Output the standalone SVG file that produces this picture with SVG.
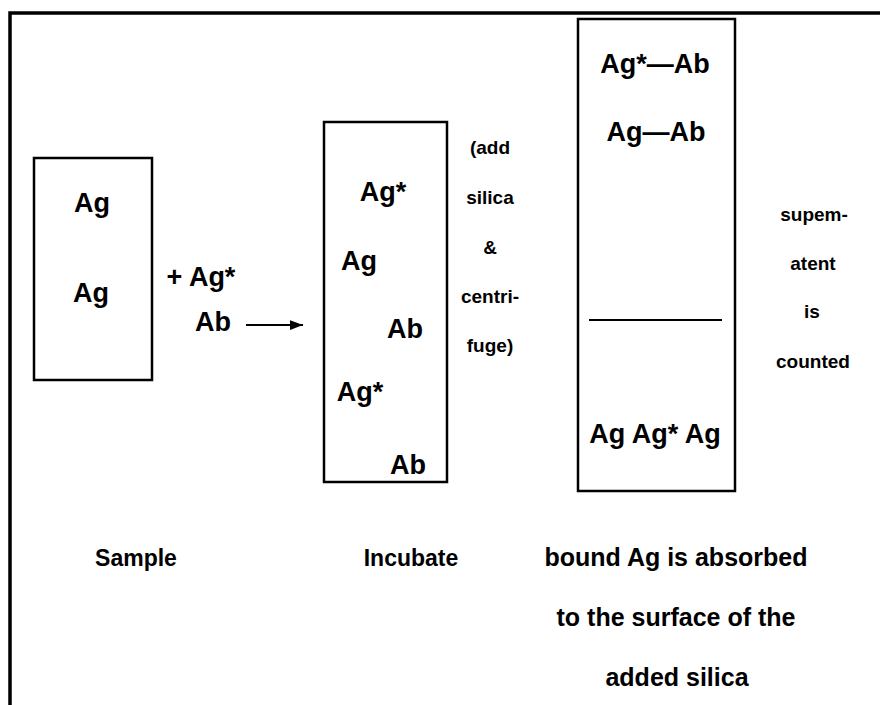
<svg xmlns="http://www.w3.org/2000/svg" width="880" height="705" viewBox="0 0 880 705">
<style>
text{font-family:"Liberation Sans",Arial,Helvetica,sans-serif;font-weight:bold;fill:#000;text-anchor:middle}
.big{font-size:27px}
.sm{font-size:19px}
.lab{font-size:23px}
.lab2{font-size:25px}
.box{fill:#fff;stroke:#000;stroke-width:2.5}
.frame{fill:none;stroke:#000;stroke-width:3.5}
</style>
<defs>
<marker id="ah" viewBox="0 0 12 10" refX="12" refY="5" markerWidth="13" markerHeight="11" markerUnits="userSpaceOnUse" orient="auto">
<path d="M0,0.5 L12,5 L0,9.5 Z" fill="#000"/>
</marker>
</defs>
<rect width="880" height="705" fill="#fff"/>
<path class="frame" d="M10,705 V13 H880"/>
<g id="sample">
<rect class="box" x="34" y="158" width="118" height="222"/>
<text class="big" x="92" y="212">Ag</text>
<text class="big" x="91" y="302">Ag</text>
</g>
<g id="reagents">
<text class="big" x="201" y="286">+ Ag*</text>
<text class="big" x="213" y="331">Ab</text>
</g>
<g id="incubate">
<rect class="box" x="324" y="122" width="123" height="360"/>
<text class="big" x="383" y="201">Ag*</text>
<text class="big" x="359" y="270">Ag</text>
<text class="big" x="405" y="338">Ab</text>
<text class="big" x="360" y="401">Ag*</text>
<text class="big" x="408" y="474">Ab</text>
</g>
<g id="add-silica">
<text class="sm" x="490" y="154">(add</text>
<text class="sm" x="490" y="204">silica</text>
<text class="sm" x="490" y="254">&amp;</text>
<text class="sm" x="490" y="303">centri-</text>
<text class="sm" x="490" y="352">fuge)</text>
</g>
<g id="centrifuged">
<rect class="box" x="578" y="19" width="157" height="472"/>
<text class="big" x="655" y="73">Ag*—Ab</text>
<text class="big" x="656" y="141">Ag—Ab</text>
<line x1="589" y1="320" x2="722" y2="320" stroke="#000" stroke-width="2"/>
<text class="big" x="655" y="443">Ag Ag* Ag</text>
</g>
<g id="supernatant">
<text class="sm" x="814" y="221">supem-</text>
<text class="sm" x="813" y="270">atent</text>
<text class="sm" x="812" y="318">is</text>
<text class="sm" x="813" y="368">counted</text>
</g>
<g id="labels">
<text class="lab" x="136" y="566">Sample</text>
<text class="lab" x="411" y="566">Incubate</text>
<text class="lab2" x="676" y="566">bound Ag is absorbed</text>
<text class="lab2" x="676" y="626">to the surface of the</text>
<text class="lab2" x="677" y="686">added silica</text>
</g>
<g id="connectors">
<line x1="246" y1="325" x2="303" y2="325" stroke="#000" stroke-width="2" marker-end="url(#ah)"/>
</g>
</svg>
